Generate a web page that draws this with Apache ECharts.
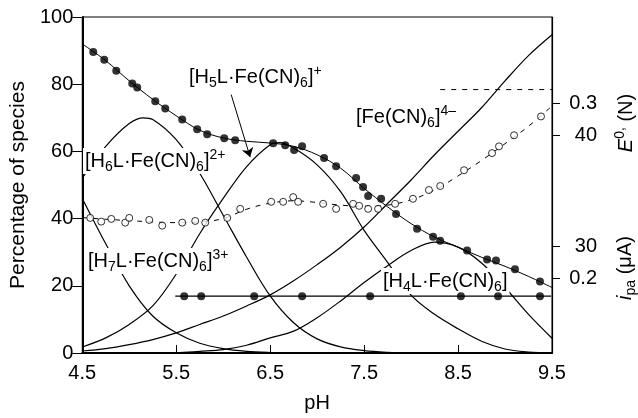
<!DOCTYPE html>
<html><head><meta charset="utf-8">
<script src="https://cdn.jsdelivr.net/npm/echarts@6/dist/echarts.min.js"></script>
<style>html,body{margin:0;padding:0;background:#fff}#c{width:638px;height:418px}</style>
</head><body><div id="c"></div>
<script>
// ---- data ----
const h7LPH  = [4.5,4.75,5.0,5.25,5.5,5.75,6.0,6.25,6.5,6.75,7.0];
const h7L    = [46,32.5,20,11,6,2.9,1.3,0.5,0.15,0,0];
const h6LPH  = [4.5,4.75,5.0,5.15,5.25,5.5,5.75,6.0,6.25,6.5,6.75,7.0,7.25,7.5,7.75,8.0];
const h6L    = [52,61.5,68.3,70,69.5,63.5,53.5,41,28.5,17,9,4.2,1.8,0.7,0.2,0];
const h5LPH  = [4.5,4.75,5.0,5.25,5.5,5.75,6.0,6.25,6.5,6.6,6.75,7.0,7.25,7.5,7.75,8.0,8.25,8.5,8.75,9.0,9.25,9.5];
const h5L    = [1.8,4.5,8.5,14,23.5,35.5,46,55.5,62,62.6,61,56,48,36.5,27,17.2,11.5,7.2,3.5,1.2,0.3,0];
const h4LPH  = [4.5,5.0,5.5,5.75,6.0,6.25,6.5,6.75,7.0,7.25,7.5,7.75,8.0,8.25,8.5,8.75,9.0,9.25,9.5];
const h4L    = [0,0,0.1,0.5,1,2.3,4.5,6.5,10.5,15.5,21,26,30.5,33,31.5,26.8,19.5,11.5,4.4];
const fePH   = [4.5,4.75,5.0,5.25,5.5,5.75,6.0,6.25,6.5,6.75,7.0,7.25,7.5,7.75,8.0,8.25,8.5,8.75,9.0,9.25,9.5];
const feCN   = [0.6,1.3,2.5,4,6,8.5,11,14,17.3,21.5,26.3,31.5,37.5,44.5,51.5,59,66,73,81,88.5,94.7];
// fitted curve through filled dots (percentage)
const fitPH     = [4.5,4.75,5.0,5.25,5.5,5.75,6.0,6.25,6.5,6.75,7.0,7.25,7.5,7.75,8.0,8.25,8.5,8.75,9.0,9.25,9.5];
const fitFilled = [92,87,81,75.5,70.6,66.3,64,63,62.5,61.5,59,55,49,43.5,38.5,34.5,31.5,28.5,25.8,22.8,19.5];
// fitted dashed curve through open circles
const fitOpen   = [40.3,39.8,39.4,39.0,38.8,39.0,40.0,42.8,44.6,45.3,44.8,44.0,43.7,44.0,45.6,48.5,52.7,57.3,62.3,67.5,73.5];
// filled dots
const filledPH  = [4.617,4.734,4.862,5.032,5.085,5.277,5.383,5.564,5.723,5.830,6.011,6.128,6.532,6.66,6.755,6.84,7.074,7.202,7.415,7.489,7.543,7.681,7.84,8.064,8.234,8.309,8.596,8.809,8.904,9.106,9.372];
const filledVal = [89.6,87.3,84.0,80.2,79.0,74.9,72.8,69.5,66.6,65.1,63.9,63.3,62.4,61.8,60.4,61.5,58.0,55.6,52.1,49.4,46.7,45.9,41.4,37.0,34.6,33.4,30.5,27.8,27.5,24.9,21.3];
// open circles
const openPH  = [4.585,4.702,4.809,4.957,5.0,5.213,5.351,5.564,5.702,5.809,6.043,6.181,6.511,6.638,6.745,6.798,7.064,7.202,7.383,7.447,7.543,7.649,7.83,8.02,8.19,8.31,8.564,8.862,8.936,9.096,9.383];
const openVal = [40.2,39.1,39.9,38.8,40.2,39.6,37.9,38.8,39.3,38.8,40.2,42.9,45.0,45.0,46.4,45.0,44.4,42.9,44.4,43.8,42.9,42.9,44.4,45.9,48.5,49.7,54.4,59.5,61.5,64.8,70.4];
// i_pa points (horizontal)
const ipaPH  = [5.585,5.766,6.33,6.84,7.564,8.53,8.926,9.372];
const ipaVal = [16.9,16.9,16.9,16.9,16.9,16.9,16.9,16.9];
const ipaLinePH  = [5.49,9.49];
const ipaLineVal = [16.9,16.9];
// dashed reference line
const refLinePH  = [8.31,9.5];
const refLineVal = [78.4,78.4];
// right axis ticks
const rightTickPos  = [74.3,64.8,31.7,22.2];
const rightTickText = ['0.3','40','30','0.2'];

const FF = '"Liberation Sans", Arial, Helvetica, sans-serif';
const zip = (a,b) => a.map((v,i)=>[v,b[i]]);

function curve(xs, vals, extra) {
  return Object.assign({type:'line', data: zip(xs, vals), smooth:0.35, showSymbol:false, symbol:'none',
    lineStyle:{color:'#000', width:1.2}, silent:true, z:2}, extra||{});
}

const rich = {
  b:{fontSize:20, fontFamily:FF, lineHeight:26, verticalAlign:'middle', color:'#000'},
  s:{fontSize:14, fontFamily:FF, lineHeight:14, verticalAlign:'bottom', color:'#000'},
  p:{fontSize:14, fontFamily:FF, lineHeight:14, verticalAlign:'top', color:'#000'},
  i:{fontSize:20, fontFamily:FF, fontStyle:'italic', lineHeight:26, verticalAlign:'middle', color:'#000'}
};
function lbl(x, y, text) {
  return {type:'text', x:x, y:y, z:3, style:{text:text, rich:rich, fill:'#000', font:'20px '+FF, align:'left', verticalAlign:'middle',
    backgroundColor:'#fff', padding:[0,2,0,2]}};
}

const chart = echarts.init(document.getElementById('c'), null, {renderer:'canvas'});
chart.setOption({
  animation:false,
  backgroundColor:'#fff',
  grid:{left:82, right:86, top:17, bottom:63, show:true, borderColor:'#000', borderWidth:1, backgroundColor:'transparent'},
  xAxis:{type:'value', min:4.5, max:9.5, interval:1,
    name:'pH', nameLocation:'middle', nameGap:40, nameTextStyle:{fontSize:20, fontFamily:FF, color:'#000'},
    axisLine:{lineStyle:{color:'#000', width:2}},
    axisTick:{inside:true, length:8, lineStyle:{color:'#000', width:1}},
    axisLabel:{color:'#000', fontSize:20, fontFamily:FF, margin:10, formatter:v=>v.toFixed(1)},
    splitLine:{show:false}},
  yAxis:[
    {type:'value', min:0, max:100, interval:20, position:'left',
     name:'Percentage of species', nameLocation:'middle', nameGap:53, nameTextStyle:{fontSize:21, fontFamily:FF, color:'#000'},
     axisLine:{show:true, lineStyle:{color:'#000', width:2}},
     axisTick:{show:true, inside:false, length:10, lineStyle:{color:'#000', width:1}},
     axisLabel:{color:'#000', fontSize:20, fontFamily:FF, margin:9},
     splitLine:{show:false}},
    {type:'value', min:0, max:100, position:'right',
     axisLine:{show:true, lineStyle:{color:'#000', width:1.2}},
     axisTick:{show:true, inside:false, length:8, customValues:rightTickPos, lineStyle:{color:'#000', width:1}},
     axisLabel:{show:true, color:'#000', fontSize:20, fontFamily:FF, margin:45, align:'right', customValues:rightTickPos,
       formatter:function(v){ for (let i=0;i<rightTickPos.length;i++){ if (Math.abs(rightTickPos[i]-v)<1e-6) return rightTickText[i]; } return ''; }},
     splitLine:{show:false}}
  ],
  series:[
    curve(h7LPH, h7L), curve(h6LPH, h6L), curve(h5LPH, h5L), curve(h4LPH, h4L), curve(fePH, feCN),
    curve(fitPH, fitFilled, {lineStyle:{color:'#000', width:1}, z:5}),
    curve(fitPH, fitOpen, {lineStyle:{color:'#000', width:1, type:[5,6]}, z:5}),
    {type:'line', data:zip(refLinePH, refLineVal), showSymbol:false, symbol:'none', z:5, lineStyle:{color:'#000', width:1, type:[5,6]}},
    {type:'line', data:zip(ipaLinePH, ipaLineVal), showSymbol:false, symbol:'none', z:5, lineStyle:{color:'#000', width:1.3}},
    {type:'scatter', data:zip(filledPH, filledVal), symbol:'circle', symbolSize:8, itemStyle:{color:'#000'}, z:6},
    {type:'scatter', data:zip(ipaPH, ipaVal), symbol:'circle', symbolSize:8, itemStyle:{color:'#000'}, z:6},
    {type:'scatter', data:zip(openPH, openVal), symbol:'circle', symbolSize:7, itemStyle:{color:'#fff', borderColor:'#000', borderWidth:1}, z:6},
    {type:'lines', coordinateSystem:'cartesian2d', polyline:false, symbol:['none','arrow'], symbolSize:9,
     lineStyle:{color:'#000', width:1, opacity:1, curveness:0},
     data:[{coords:[[6.085,76.9],[6.287,58.3]]}], z:7}
  ],
  graphic:[
    lbl(187, 77, '{b|[H}{s|5}{b|L·Fe(CN)}{s|6}{b|]}{p|+}'),
    lbl(83, 161, '{b|[H}{s|6}{b|L·Fe(CN)}{s|6}{b|]}{p|2+}'),
    lbl(354, 117, '{b|[Fe(CN)}{s|6}{b|]}{p|4–}'),
    lbl(86, 261, '{b|[H}{s|7}{b|L·Fe(CN)}{s|6}{b|]}{p|3+}'),
    lbl(381, 281, '{b|[H}{s|4}{b|L·Fe(CN)}{s|6}{b|]}'),
    {type:'text', x:626, y:123, rotation:Math.PI/2, z:50, style:{text:'{i|E}{p|0,}{b| (N)}', rich:rich, fill:'#000', font:'20px '+FF, align:'center', verticalAlign:'middle'}},
    {type:'text', x:625, y:268, rotation:Math.PI/2, z:50, style:{text:'{i|i}{s|pa}{b| (μA)}', rich:rich, fill:'#000', font:'20px '+FF, align:'center', verticalAlign:'middle'}}
  ]
});
</script></body></html>
